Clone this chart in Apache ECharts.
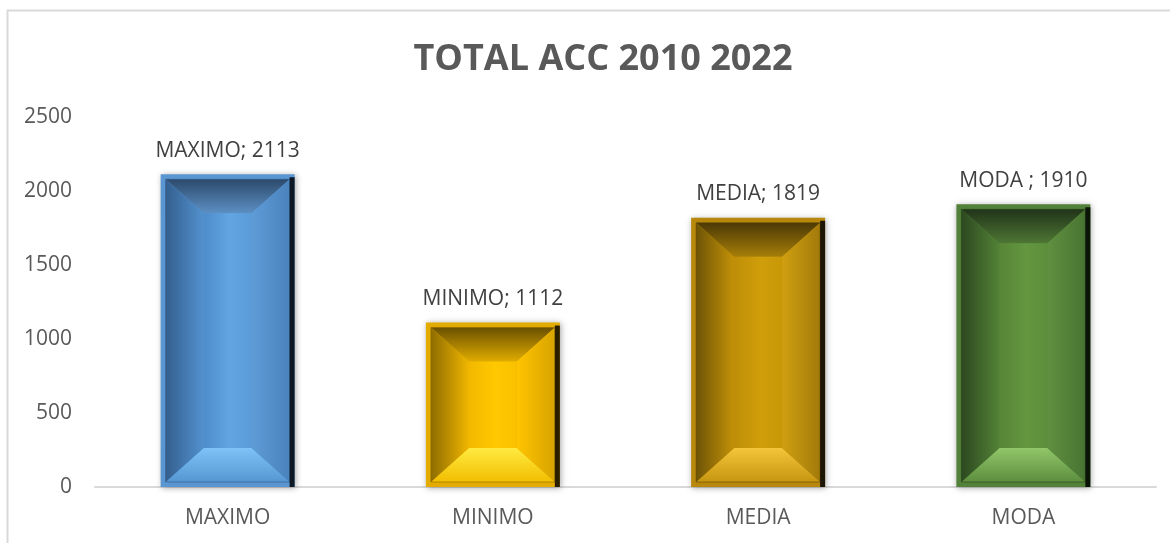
<!DOCTYPE html>
<html>
<head>
<meta charset="utf-8">
<script src="https://cdn.jsdelivr.net/npm/echarts@6/dist/echarts.min.js"></script>
<style>
  html, body { margin: 0; padding: 0; background: #fff; }
  #chart { width: 1170px; height: 543px; }
</style>
</head>
<body>
<div id="chart"></div>
<script>
// datos del gráfico
const categories = ['MAXIMO', 'MINIMO', 'MEDIA', 'MODA']
const values = [2113, 1112, 1819, 1910]
const labelNames = ['MAXIMO', 'MINIMO', 'MEDIA', 'MODA ']
const yTicks = [0, 500, 1000, 1500, 2000, 2500]

// colores del bisel de cada barra
const palettes = [
  { rim: '#5A96D2', line: '#2E5680', edge: '#0D1824', face: ['#4E8CCB', '#62A5E3', '#5A9BD8'], top: ['#2C4A6B', '#5C8FC4'], bot: ['#7EC2F6', '#5697D3'], left: ['#345F8E', '#5291CE'], right: ['#5E9CD8', '#4A82BC'] },
  { rim: '#E4AC00', line: '#8A6800', edge: '#2A1E00', face: ['#F2B800', '#FFC800', '#FAC000'], top: ['#6A5000', '#E0AC00'], bot: ['#FFEA40', '#F2BE00'], left: ['#8E6C00', '#F0B600'], right: ['#FFC400', '#D8A400'] },
  { rim: '#B8880C', line: '#5E4806', edge: '#1C1404', face: ['#BE8E08', '#D09E0A', '#C89808'], top: ['#4C3906', '#A67E08'], bot: ['#F4C43A', '#C69610'], left: ['#6E5406', '#C49208'], right: ['#D0A010', '#A27A0A'] },
  { rim: '#52823A', line: '#284018', edge: '#0B1407', face: ['#578636', '#63963F', '#5D8E3A'], top: ['#213419', '#4E7634'], bot: ['#92C66A', '#5C8E3E'], left: ['#2D4820', '#538236'], right: ['#609040', '#487432'] }
]

const chart = echarts.init(document.getElementById('chart'))

const lg = (x, y, x2, y2, c1, c2) => new echarts.graphic.LinearGradient(x, y, x2, y2, [
  { offset: 0, color: c1 }, { offset: 1, color: c2 }
])

const renderItem = (params, api) => {
  const i = api.value(0)
  const v = api.value(1)
  const top = api.coord([i, v])
  const base = api.coord([i, 0])
  const bw = api.size([1, 0])[0] * 0.505
  const x0 = top[0] - bw / 2
  const x1 = top[0] + bw / 2
  const y0 = top[1]
  const y1 = base[1]
  const rim = 5
  const bevX = 38
  const bevY = 34
  const ix0 = x0 + rim, ix1 = x1 - rim, iy0 = y0 + rim, iy1 = y1 - rim
  const jx0 = ix0 + bevX, jx1 = ix1 - bevX, jy0 = iy0 + bevY, jy1 = iy1 - bevY
  const c = palettes[i]
  return {
    type: 'group',
    children: [
      { type: 'rect', shape: { x: x0, y: y0, width: bw, height: y1 - y0 },
        style: { fill: c.rim, shadowBlur: 6, shadowColor: 'rgba(0,0,0,0.35)', shadowOffsetX: 1, shadowOffsetY: 1 } },
      { type: 'polygon', shape: { points: [[ix0, iy0], [ix1, iy0], [jx1, jy0], [jx0, jy0]] },
        style: { fill: lg(0, 0, 0, 1, c.top[0], c.top[1]) } },
      { type: 'polygon', shape: { points: [[jx0, jy1], [jx1, jy1], [ix1, iy1], [ix0, iy1]] },
        style: { fill: lg(0, 0, 0, 1, c.bot[0], c.bot[1]) } },
      { type: 'polygon', shape: { points: [[ix0, iy0], [jx0, jy0], [jx0, jy1], [ix0, iy1]] },
        style: { fill: lg(0, 0, 1, 0, c.left[0], c.left[1]) } },
      { type: 'polygon', shape: { points: [[jx1, jy0], [ix1, iy0], [ix1, iy1], [jx1, jy1]] },
        style: { fill: lg(0, 0, 1, 0, c.right[0], c.right[1]) } },
      { type: 'rect', shape: { x: jx0, y: jy0, width: jx1 - jx0, height: jy1 - jy0 },
        style: { fill: new echarts.graphic.LinearGradient(0, 0, 1, 0, [
          { offset: 0, color: c.face[0] }, { offset: 0.55, color: c.face[1] }, { offset: 1, color: c.face[2] }
        ]) } },
      { type: 'rect', shape: { x: ix0, y: iy0, width: ix1 - ix0, height: iy1 - iy0 },
        style: { fill: 'none', stroke: c.line, lineWidth: 1, opacity: 0.6 } },
      { type: 'rect', shape: { x: x1 - 5, y: y0 + 3, width: 5, height: y1 - y0 - 3 }, style: { fill: c.edge } },
      { type: 'text', x: top[0], y: y0 - 13,
        style: { text: labelNames[i] + '; ' + v, fill: '#404040', font: '21px "Open Sans"', align: 'center', verticalAlign: 'bottom' } }
    ]
  }
}

const option = {
  backgroundColor: '#ffffff',
  animation: false,
  title: {
    text: 'TOTAL ACC 2010 2022',
    left: 598,
    top: 37,
    textAlign: 'center',
    textStyle: { fontFamily: 'Open Sans', fontWeight: 'bold', fontSize: 36, color: '#595959' }
  },
  graphic: [
    { type: 'rect', shape: { x: 7.5, y: 10.5, width: 1200, height: 600 }, style: { fill: 'none', stroke: '#d9d9d9', lineWidth: 2 }, silent: true }
  ],
  grid: { left: 95, right: 14, top: 117, bottom: 56 },
  xAxis: {
    type: 'category',
    data: categories,
    axisLine: { lineStyle: { color: '#d9d9d9', width: 2 } },
    axisTick: { show: false },
    axisLabel: { color: '#595959', fontFamily: 'Open Sans', fontSize: 21, margin: 21 }
  },
  yAxis: {
    type: 'value',
    min: yTicks[0],
    max: yTicks[yTicks.length - 1],
    interval: 500,
    axisLine: { show: false },
    axisTick: { show: false },
    splitLine: { show: false },
    axisLabel: { color: '#595959', fontFamily: 'Open Sans', fontSize: 21, margin: 23, formatter: v => String(v) }
  },
  series: [{
    type: 'custom',
    renderItem: renderItem,
    data: values.map((v, i) => [i, v]),
    encode: { x: 0, y: 1 },
    clip: false
  }]
}

chart.setOption(option)
window.addEventListener('resize', () => chart.resize())
</script>
</body>
</html>
